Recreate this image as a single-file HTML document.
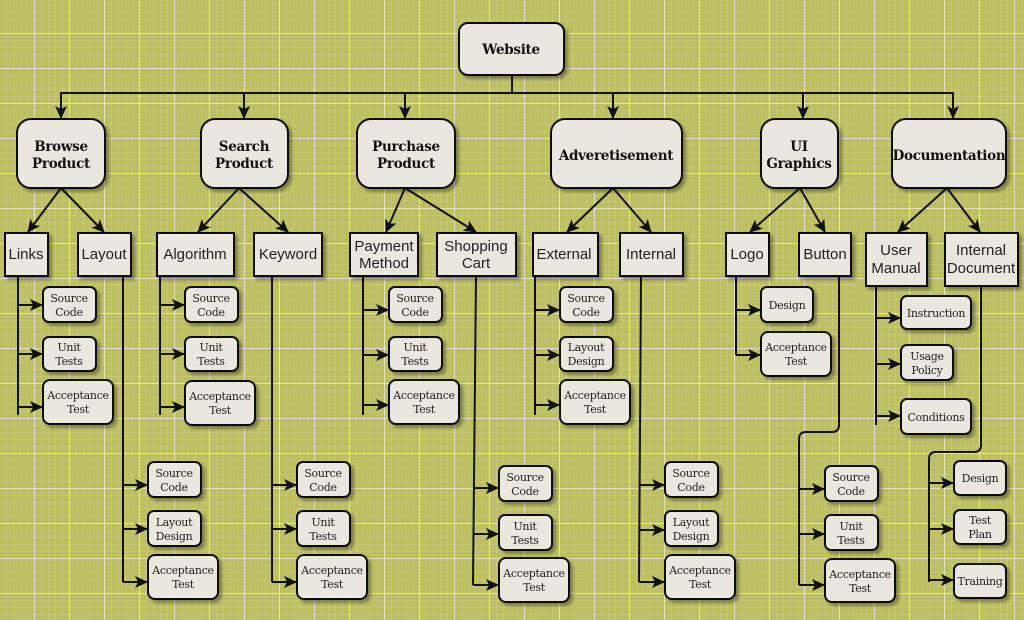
<!DOCTYPE html>
<html><head><meta charset="utf-8"><style>
html,body{margin:0;padding:0;width:1024px;height:620px;overflow:hidden}
body{background-color:#bdbf63;
background-image:
linear-gradient(to right,rgba(255,255,255,.5) 1px,transparent 1px),
linear-gradient(to bottom,rgba(255,255,255,.5) 1px,transparent 1px),
linear-gradient(to right,rgba(255,255,255,.1) 1px,transparent 1px),
linear-gradient(to bottom,rgba(255,255,255,.1) 1px,transparent 1px);
background-size:35px 35px,35px 35px,7px 7px,7px 7px;
background-position:-1px -2px,-1px -2px,-1px -2px,-1px -2px}
svg{position:absolute;left:0;top:0}
.r{fill:#e9e7e0;stroke:#111;stroke-width:2;filter:url(#sh)}
.s{font-family:"DejaVu Serif","Liberation Serif",serif;font-size:11px;letter-spacing:-0.3px;fill:#222;text-anchor:middle}
.t{font-family:"DejaVu Serif","Liberation Serif",serif;font-size:13.5px;font-weight:bold;letter-spacing:-0.3px;fill:#111;text-anchor:middle}
.m{font-family:"Liberation Sans",sans-serif;font-size:15px;fill:#222;text-anchor:middle}
.l{fill:none;stroke:#111;stroke-width:2}
</style></head><body>
<svg width="1024" height="620" xmlns="http://www.w3.org/2000/svg">
<defs>
<filter id="sh" x="-20%" y="-20%" width="150%" height="150%"><feDropShadow dx="3" dy="3" stdDeviation="1.5" flood-color="#000" flood-opacity=".35"/></filter>
<marker id="a" markerWidth="13" markerHeight="12" refX="12" refY="6" orient="auto" markerUnits="userSpaceOnUse"><path d="M0,0 L13,6 L0,12 L3,6 z" fill="#111"/></marker>
</defs>
<g class="l" marker-end="url(#a)">
<path d="M512,75 V93 H61 V118"/>
<path d="M244,93 V118"/><path d="M405,93 V118"/><path d="M613,93 V118"/><path d="M803,93 V118"/><path d="M512,93 H953 V118"/>
<path d="M61,188 L28,232"/><path d="M61,188 L104,232"/>
<path d="M239,188 L198,232"/><path d="M239,188 L288,232"/>
<path d="M405,188 L386,232"/><path d="M405,188 L476,232"/>
<path d="M613,188 L567,232"/><path d="M613,188 L651,232"/>
<path d="M800,188 L750,232"/><path d="M800,188 L825,232"/>
<path d="M947,188 L898,232"/><path d="M947,188 L980,232"/>
</g>
<g class="l">
<path d="M18,276 V415"/><path d="M123,276 V582"/><path d="M160,276 V415"/><path d="M272,276 V582"/>
<path d="M363,276 V415"/><path d="M476,276 L473,585"/><path d="M535,276 V415"/><path d="M641,276 L639,582"/>
<path d="M736,276 V355"/><path d="M839,276 V425 Q839,432 832,432 H806 Q799,432 799,439 V585"/>
<path d="M876,286 V425"/><path d="M981,286 V445 Q981,452 974,452 H936 Q929,452 929,459 V582"/>
</g>
<g class="l" marker-end="url(#a)">
<path d="M18,305 H42"/><path d="M18,354 H42"/><path d="M18,407 H42"/>
<path d="M123,485 H147"/><path d="M123,529 H147"/><path d="M123,582 H147"/>
<path d="M160,305 H184"/><path d="M160,354 H184"/><path d="M160,407 H184"/>
<path d="M272,485 H296"/><path d="M272,529 H296"/><path d="M272,582 H296"/>
<path d="M363,310 H388"/><path d="M363,355 H388"/><path d="M363,405 H388"/>
<path d="M473,488 H498"/><path d="M473,534 H498"/><path d="M473,585 H498"/>
<path d="M535,310 H559"/><path d="M535,355 H559"/><path d="M535,405 H559"/>
<path d="M639,485 H664"/><path d="M639,530 H664"/><path d="M639,582 H664"/>
<path d="M736,310 H760"/><path d="M736,355 H760"/>
<path d="M799,489 H824"/><path d="M799,534 H824"/><path d="M799,585 H824"/>
<path d="M876,318 H900"/><path d="M876,364 H900"/><path d="M876,416 H900"/>
<path d="M929,483 H953"/><path d="M929,529 H953"/><path d="M929,580 H953"/>
</g>
<rect class="r" x="459" y="23" width="105" height="52" rx="9"/><text class="t" x="511" y="54">Website</text>
<rect class="r" x="17" y="119" width="88" height="69" rx="14"/><text class="t" x="61" y="151">Browse</text><text class="t" x="61" y="168">Product</text>
<rect class="r" x="201" y="119" width="87" height="69" rx="14"/><text class="t" x="244" y="151">Search</text><text class="t" x="244" y="168">Product</text>
<rect class="r" x="357" y="119" width="98" height="69" rx="14"/><text class="t" x="406" y="151">Purchase</text><text class="t" x="406" y="168">Product</text>
<rect class="r" x="551" y="119" width="131" height="69" rx="14"/><text class="t" x="616" y="160">Adveretisement</text>
<rect class="r" x="761" y="119" width="77" height="69" rx="14"/><text class="t" x="799" y="151">UI</text><text class="t" x="799" y="168">Graphics</text>
<rect class="r" x="892" y="119" width="114" height="69" rx="14"/><text class="t" x="949" y="160">Documentation</text>
<g>
<rect class="r" x="5" y="233" width="43" height="43"/><text class="m" x="26" y="259">Links</text>
<rect class="r" x="78" y="233" width="53" height="43"/><text class="m" x="104" y="259">Layout</text>
<rect class="r" x="157" y="233" width="77" height="43"/><text class="m" x="195" y="259">Algorithm</text>
<rect class="r" x="254" y="233" width="68" height="43"/><text class="m" x="288" y="259">Keyword</text>
<rect class="r" x="350" y="233" width="68" height="43"/><text class="m" x="384" y="251">Payment</text><text class="m" x="384" y="268">Method</text>
<rect class="r" x="437" y="233" width="79" height="43"/><text class="m" x="476" y="251">Shopping</text><text class="m" x="476" y="268">Cart</text>
<rect class="r" x="533" y="233" width="65" height="43"/><text class="m" x="564" y="259">External</text>
<rect class="r" x="620" y="233" width="63" height="43"/><text class="m" x="651" y="259">Internal</text>
<rect class="r" x="726" y="233" width="43" height="43"/><text class="m" x="747" y="259">Logo</text>
<rect class="r" x="799" y="233" width="52" height="43"/><text class="m" x="825" y="259">Button</text>
<rect class="r" x="866" y="233" width="61" height="53"/><text class="m" x="896" y="255">User</text><text class="m" x="896" y="273">Manual</text>
<rect class="r" x="945" y="233" width="73" height="53"/><text class="m" x="981" y="255">Internal</text><text class="m" x="981" y="273">Document</text>
</g>
<g>
<rect class="r" x="43" y="287" width="53" height="35" rx="6"/><text class="s" x="69" y="302">Source</text><text class="s" x="69" y="316">Code</text>
<rect class="r" x="43" y="337" width="53" height="34" rx="6"/><text class="s" x="69" y="351">Unit</text><text class="s" x="69" y="365">Tests</text>
<rect class="r" x="43" y="380" width="70" height="44" rx="7"/><text class="s" x="78" y="399">Acceptance</text><text class="s" x="78" y="413">Test</text>
<rect class="r" x="148" y="462" width="53" height="35" rx="6"/><text class="s" x="174" y="477">Source</text><text class="s" x="174" y="491">Code</text>
<rect class="r" x="148" y="511" width="53" height="35" rx="6"/><text class="s" x="174" y="526">Layout</text><text class="s" x="174" y="540">Design</text>
<rect class="r" x="148" y="555" width="70" height="44" rx="7"/><text class="s" x="183" y="574">Acceptance</text><text class="s" x="183" y="588">Test</text>
<rect class="r" x="185" y="287" width="53" height="35" rx="6"/><text class="s" x="211" y="302">Source</text><text class="s" x="211" y="316">Code</text>
<rect class="r" x="185" y="337" width="53" height="34" rx="6"/><text class="s" x="211" y="351">Unit</text><text class="s" x="211" y="365">Tests</text>
<rect class="r" x="185" y="381" width="70" height="44" rx="7"/><text class="s" x="220" y="400">Acceptance</text><text class="s" x="220" y="414">Test</text>
<rect class="r" x="297" y="462" width="53" height="35" rx="6"/><text class="s" x="323" y="477">Source</text><text class="s" x="323" y="491">Code</text>
<rect class="r" x="297" y="511" width="53" height="35" rx="6"/><text class="s" x="323" y="526">Unit</text><text class="s" x="323" y="540">Tests</text>
<rect class="r" x="297" y="555" width="70" height="44" rx="7"/><text class="s" x="332" y="574">Acceptance</text><text class="s" x="332" y="588">Test</text>
<rect class="r" x="389" y="287" width="53" height="35" rx="6"/><text class="s" x="415" y="302">Source</text><text class="s" x="415" y="316">Code</text>
<rect class="r" x="389" y="337" width="53" height="34" rx="6"/><text class="s" x="415" y="351">Unit</text><text class="s" x="415" y="365">Tests</text>
<rect class="r" x="389" y="380" width="70" height="44" rx="7"/><text class="s" x="424" y="399">Acceptance</text><text class="s" x="424" y="413">Test</text>
<rect class="r" x="499" y="466" width="53" height="35" rx="6"/><text class="s" x="525" y="481">Source</text><text class="s" x="525" y="495">Code</text>
<rect class="r" x="499" y="515" width="53" height="35" rx="6"/><text class="s" x="525" y="530">Unit</text><text class="s" x="525" y="544">Tests</text>
<rect class="r" x="499" y="558" width="70" height="44" rx="7"/><text class="s" x="534" y="577">Acceptance</text><text class="s" x="534" y="591">Test</text>
<rect class="r" x="560" y="287" width="53" height="35" rx="6"/><text class="s" x="586" y="302">Source</text><text class="s" x="586" y="316">Code</text>
<rect class="r" x="560" y="337" width="53" height="34" rx="6"/><text class="s" x="586" y="351">Layout</text><text class="s" x="586" y="365">Design</text>
<rect class="r" x="560" y="380" width="70" height="44" rx="7"/><text class="s" x="595" y="399">Acceptance</text><text class="s" x="595" y="413">Test</text>
<rect class="r" x="665" y="462" width="53" height="35" rx="6"/><text class="s" x="691" y="477">Source</text><text class="s" x="691" y="491">Code</text>
<rect class="r" x="665" y="511" width="53" height="35" rx="6"/><text class="s" x="691" y="526">Layout</text><text class="s" x="691" y="540">Design</text>
<rect class="r" x="665" y="555" width="70" height="44" rx="7"/><text class="s" x="700" y="574">Acceptance</text><text class="s" x="700" y="588">Test</text>
<rect class="r" x="761" y="287" width="52" height="35" rx="6"/><text class="s" x="787" y="309">Design</text>
<rect class="r" x="761" y="332" width="70" height="44" rx="7"/><text class="s" x="796" y="351">Acceptance</text><text class="s" x="796" y="365">Test</text>
<rect class="r" x="825" y="466" width="53" height="35" rx="6"/><text class="s" x="851" y="481">Source</text><text class="s" x="851" y="495">Code</text>
<rect class="r" x="825" y="515" width="53" height="35" rx="6"/><text class="s" x="851" y="530">Unit</text><text class="s" x="851" y="544">Tests</text>
<rect class="r" x="825" y="559" width="70" height="43" rx="7"/><text class="s" x="860" y="578">Acceptance</text><text class="s" x="860" y="592">Test</text>
<rect class="r" x="901" y="296" width="70" height="33" rx="6"/><text class="s" x="936" y="317">Instruction</text>
<rect class="r" x="901" y="345" width="52" height="35" rx="6"/><text class="s" x="927" y="360">Usage</text><text class="s" x="927" y="374">Policy</text>
<rect class="r" x="901" y="399" width="70" height="35" rx="6"/><text class="s" x="936" y="421">Conditions</text>
<rect class="r" x="954" y="461" width="52" height="34" rx="6"/><text class="s" x="980" y="482">Design</text>
<rect class="r" x="954" y="510" width="52" height="34" rx="6"/><text class="s" x="980" y="524">Test</text><text class="s" x="980" y="538">Plan</text>
<rect class="r" x="954" y="564" width="52" height="34" rx="6"/><text class="s" x="980" y="585">Training</text>
</g>
</svg>
</body></html>
